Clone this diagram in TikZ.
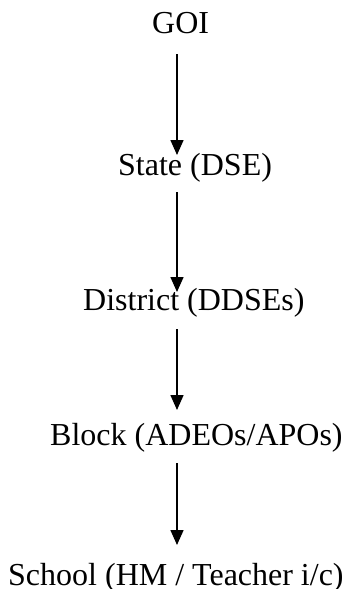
\documentclass[tikz,border=0pt]{standalone}
\usepackage{fontspec}
\setmainfont{Liberation Serif}
\usetikzlibrary{arrows.meta}
\tikzset{
	lvl/.style={anchor=base west,inner sep=0pt,font=\fontsize{32}{38}\selectfont},
	arr/.style={-{Triangle[length=15pt,width=13pt]},line width=1.5pt}
}
\begin{document}
\begin{tikzpicture}[x=1pt,y=-1pt]
			\useasboundingbox (0,0) rectangle (353,589);
			\coordinate (axis) at (177,0);
			\node[lvl] (goi) at (152,33) {GOI};
			\node[lvl] (state) at (118,175) {State (DSE)};
			\node[lvl] (district) at (83,310) {District (DDSEs)};
			\node[lvl] (block) at (50,445) {Block (ADEOs/APOs)};
			\node[lvl] (school) at (8,585) {School (HM / Teacher i/c)};
			\draw[arr] ([yshift=-21pt]goi.base -| axis)--([yshift=20pt]state.base -| axis);
			\draw[arr] ([yshift=-17pt]state.base -| axis)--([yshift=18pt]district.base -| axis);
			\draw[arr] ([yshift=-19pt]district.base -| axis)--([yshift=35pt]block.base -| axis);
			\draw[arr] ([yshift=-18pt]block.base -| axis)--([yshift=40pt]school.base -| axis);
		\end{tikzpicture}
\end{document}
